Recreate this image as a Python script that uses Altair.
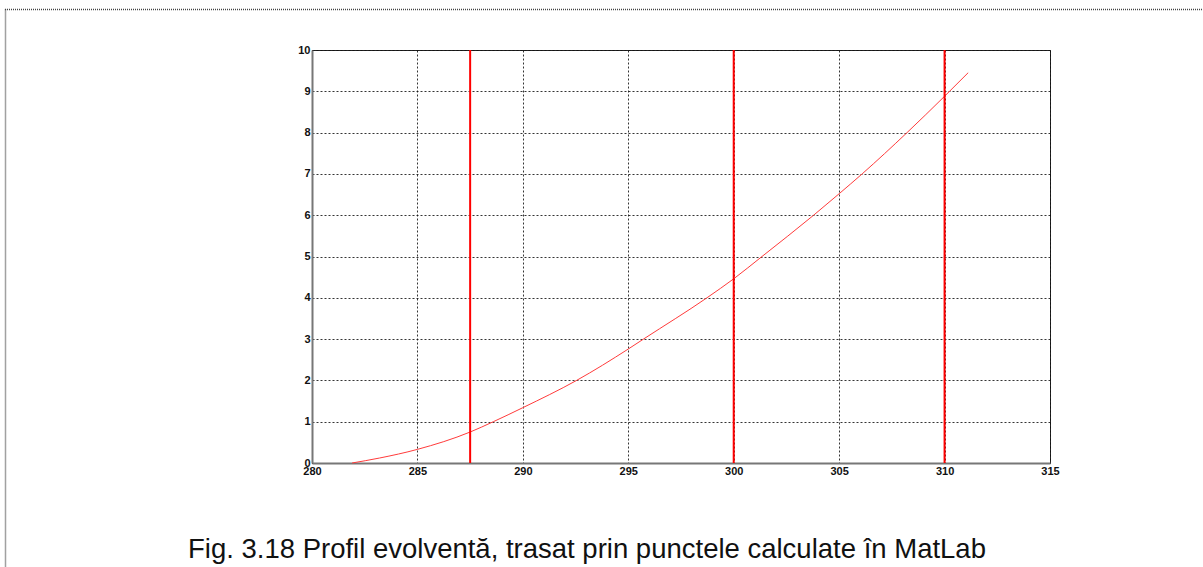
import altair as alt
import pandas as pd

# Involute profile points (x, y) computed in MatLab
profile_x = [281.9, 283.2, 285.0, 287.5, 288.6, 290.0, 292.55, 295.0, 295.72,
             298.73, 300.0, 301.34, 303.79, 305.0, 306.09, 308.22, 310.0, 311.12]
profile_y = [0.0, 0.12, 0.33, 0.75, 1.0, 1.34, 2.0, 2.76, 3.0,
             4.0, 4.46, 5.0, 6.0, 6.52, 7.0, 8.0, 8.88, 9.45]

# Vertical reference lines
marker_x = [287.5, 300.0, 310.0]

x_ticks = [280, 285, 290, 295, 300, 305, 310, 315]
y_ticks = [0, 1, 2, 3, 4, 5, 6, 7, 8, 9, 10]

caption = "Fig. 3.18 Profil evolventă, trasat prin punctele calculate în MatLab"

W, H = 738, 413
LEFT, TOP = 312, 50
PAGE_W, PAGE_H = 1203, 567

profile = pd.DataFrame({"x": profile_x, "y": profile_y})
markers = pd.DataFrame({"x": marker_x})

label_font = "Liberation Sans Narrow, Arial Narrow, Liberation Sans, Arial"

x_scale = alt.Scale(domain=[280, 315], nice=False, zero=False)
y_scale = alt.Scale(domain=[0, 10], nice=False, zero=True)

x_axis = alt.Axis(values=x_ticks, title=None, labelPadding=2, labelFlush=False,
                  labelBaseline="top")
y_axis = alt.Axis(values=y_ticks, title=None, labelPadding=2)

curve = alt.Chart(profile).mark_line(
    color="#ff3b3b", strokeWidth=1, interpolate="monotone"
).encode(
    x=alt.X("x:Q", scale=x_scale, axis=x_axis),
    y=alt.Y("y:Q", scale=y_scale, axis=y_axis),
)

rules = alt.Chart(markers).mark_rule(color="#ff0000", strokeWidth=2).encode(
    x=alt.X("x:Q", scale=x_scale)
)

# Dotted frame around the figure
frame_top = alt.Chart(pd.DataFrame({"k": [0]})).mark_rule(
    color="#444", strokeWidth=1.5, strokeDash=[1, 1]
).encode(
    x=alt.value(5 - LEFT), x2=alt.value(PAGE_W - LEFT), y=alt.value(9.5 - TOP)
)
frame_left = alt.Chart(pd.DataFrame({"k": [0]})).mark_rule(
    color="#444", strokeWidth=1.5, strokeDash=[1, 1]
).encode(
    x=alt.value(5.5 - LEFT), y=alt.value(9.5 - TOP), y2=alt.value(PAGE_H - TOP)
)

caption_text = alt.Chart(pd.DataFrame({"t": [caption]})).mark_text(
    font="Liberation Sans, Arial", fontSize=27.5, color="#111",
    align="left", baseline="alphabetic"
).encode(
    text="t:N", x=alt.value(188 - LEFT), y=alt.value(557.5 - TOP)
)

chart = alt.layer(curve, rules, frame_top, frame_left, caption_text).properties(
    width=W, height=H,
    autosize=alt.AutoSizeParams(type="none"),
    padding={"left": LEFT, "top": TOP, "right": PAGE_W - LEFT - W,
             "bottom": PAGE_H - TOP - H},
    background="white",
).configure_view(
    stroke="#222", strokeWidth=1
).configure_axis(
    grid=True, gridColor="#111", gridDash=[2, 2], gridWidth=1, gridOpacity=0.85,
    domainColor="#777", domainWidth=2,
    ticks=False,
    labelFont=label_font, labelFontSize=11, labelFontWeight="bold",
    labelColor="#111",
)

chart.save("out.html", embed_options={"renderer": "svg", "actions": False})
